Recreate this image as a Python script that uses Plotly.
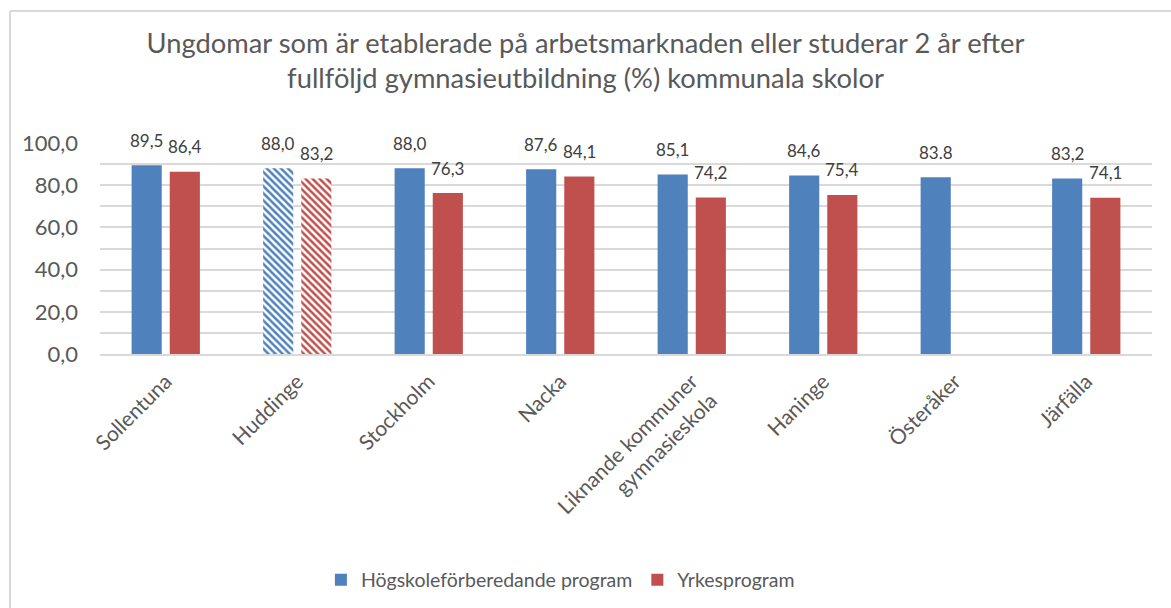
import plotly.graph_objects as go

categories = ["Sollentuna", "Huddinge", "Stockholm", "Nacka",
              "Liknande kommuner<br>gymnasieskola", "Haninge", "Österåker", "Järfälla"]
hogskole = [89.5, 88.0, 88.0, 87.6, 85.1, 84.6, 83.8, 83.2]
yrkes = [86.4, 83.2, 76.3, 84.1, 74.2, 75.4, None, 74.1]
hogskole_labels = ["89,5", "88,0", "88,0", "87,6", "85,1", "84,6", "83.8", "83,2"]
yrkes_labels = ["86,4", "83,2", "76,3", "84,1", "74,2", "75,4", "", "74,1"]
hatched = [False, True, False, False, False, False, False, False]
y_ticks = [0, 20, 40, 60, 80, 100]
y_tick_text = ["0,0", "20,0", "40,0", "60,0", "80,0", "100,0"]

BLUE = "#4F81BD"
RED = "#C0504D"
TXT = "#595959"
GRID = "#D9D9D9"
FONT = "Lato, Noto Sans, sans-serif"

shapes_pat = ["\\" if h else "" for h in hatched]

fig = go.Figure()
fig.add_trace(go.Bar(
    x=categories, y=hogskole, name="Högskoleförberedande program",
    marker=dict(color=BLUE, line=dict(width=0),
                pattern=dict(shape=shapes_pat, bgcolor="white", fgcolor=BLUE,
                             size=5, solidity=0.5, fillmode="replace")),
))
fig.add_trace(go.Bar(
    x=categories, y=yrkes, name="Yrkesprogram",
    marker=dict(color=RED, line=dict(width=0),
                pattern=dict(shape=shapes_pat, bgcolor="white", fgcolor=RED,
                             size=5, solidity=0.5, fillmode="replace")),
))

annotations = []
for c, v, t in zip(categories, hogskole, hogskole_labels):
    if v is not None and t:
        annotations.append(dict(x=c, y=v, text=t, xref="x", yref="y", showarrow=False,
                                xshift=-19, yshift=25, yanchor="middle",
                                font=dict(family=FONT, size=17, color="#404040")))
for c, v, t in zip(categories, yrkes, yrkes_labels):
    if v is not None and t:
        annotations.append(dict(x=c, y=v, text=t, xref="x", yref="y", showarrow=False,
                                xshift=19, yshift=25, yanchor="middle",
                                font=dict(family=FONT, size=17, color="#404040")))

W, H = 1171, 608
L, R, T, B = 100, 19, 143, 254
pw, ph = W - L - R, H - T - B
bx = (10 - L) / pw
by_top = (H - B - 11) / ph
by_bot = (H - B - H) / ph
xr = (W - L) / pw

fig.update_layout(
    width=W, height=H,
    margin=dict(l=L, r=R, t=T, b=B, autoexpand=False),
    paper_bgcolor="white", plot_bgcolor="white",
    barmode="group", bargap=0.42, bargroupgap=0.21,
    title=dict(text="Ungdomar som är etablerade på arbetsmarknaden eller studerar 2 år efter<br>fullföljd gymnasieutbildning (%) kommunala skolor",
               x=0.5, xanchor="center", y=1 - 53 / H, yanchor="middle",
               font=dict(family=FONT, size=27.3, color=TXT)),
    font=dict(family=FONT, color=TXT),
    showlegend=True,
    legend=dict(orientation="h", x=0.21, xanchor="left", y=(H - B - 580) / ph, yanchor="middle",
                font=dict(family=FONT, size=19.5, color=TXT), itemwidth=30,
                traceorder="normal"),
    xaxis=dict(tickangle=-45, tickfont=dict(family=FONT, size=21, color=TXT),
               showline=True, linecolor=GRID, linewidth=2, ticks="", showgrid=False,
               automargin=False, ticklabelstandoff=5),
    yaxis=dict(range=[0, 100], tickvals=y_ticks, ticktext=y_tick_text,
               tickfont=dict(family=FONT, size=22, color=TXT),
               showgrid=True, gridcolor=GRID, gridwidth=1.5,
               minor=dict(dtick=10, showgrid=True, gridcolor=GRID, gridwidth=1.5),
               zeroline=False, ticks="", ticklabelstandoff=21, automargin=False),
    annotations=annotations,
    shapes=[
        dict(type="line", xref="paper", yref="paper", x0=bx, x1=bx, y0=by_bot, y1=by_top,
             line=dict(color=GRID, width=2)),
        dict(type="line", xref="paper", yref="paper", x0=bx, x1=xr, y0=by_top, y1=by_top,
             line=dict(color=GRID, width=2)),
    ],
)

fig.write_html("out.html", config={"displayModeBar": False},
               post_script="document.body.style.margin='0';")
